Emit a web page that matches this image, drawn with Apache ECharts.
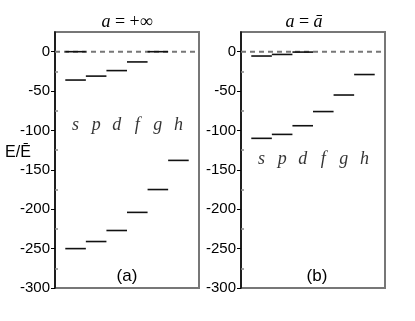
<!DOCTYPE html>
<html>
<head>
<meta charset="utf-8" />
<title>levels</title>
<script src="https://cdn.jsdelivr.net/npm/echarts@6/dist/echarts.min.js"></script>
<style>
	html, body { margin: 0; padding: 0; background: #fff; }
	#chart { width: 415px; height: 321px; }
</style>
</head>
<body>
<div id="chart"></div>
<script>
// orbital columns
var orbitals = ['s', 'p', 'd', 'f', 'g', 'h'];
// energy levels per column, panel (a) a = +inf
var levelsA = [[0, -36, -250], [-31, -241], [-24, -227], [-13, -204], [0, -175], [-138]];
// panel (b) a = a-bar
var levelsB = [[-5.5, -110], [-3.5, -105], [-0.5, -94], [-76], [-55], [-29]];
// height of the s p d ... letters in each panel
var letterY = [-94, -137];
var majorTicks = [0, -50, -100, -150, -200, -250, -300];
var minorTicks = [-25, -75, -125, -175, -225, -275];

var chart = echarts.init(document.getElementById('chart'));

function segs(levels) {
	var out = [];
	levels.forEach(function (col, i) {
		col.forEach(function (v) { out.push([i + 1, v]); });
	});
	return out;
}

function renderLevel(params, api) {
	var x = api.value(0), y = api.value(1);
	var p1 = api.coord([x - 0.5, y]);
	var p2 = api.coord([x + 0.5, y]);
	return {
		type: 'line',
		shape: { x1: p1[0], y1: p1[1], x2: p2[0], y2: p2[1] },
		style: { stroke: '#111', lineWidth: 1.6 }
	};
}

function mainY(grid) {
	return {
		type: 'value', gridIndex: grid, position: 'left', min: -300, max: 25,
		axisLine: { show: true, lineStyle: { color: '#000', width: 1.5 } },
		axisTick: { show: true, inside: false, length: 4, customValues: majorTicks, lineStyle: { color: '#000' } },
		axisLabel: { customValues: majorTicks, margin: 5, color: '#000', fontSize: 15, fontFamily: 'Liberation Sans' },
		splitLine: { show: false }
	};
}
function minorY(grid) {
	return {
		type: 'value', gridIndex: grid, position: 'left', min: -300, max: 25,
		axisLine: { show: false },
		axisTick: { show: true, inside: true, length: 3, customValues: minorTicks, lineStyle: { color: '#888', width: 1.5 } },
		axisLabel: { show: false },
		splitLine: { show: false }
	};
}
function xAx(grid) {
	return { type: 'value', gridIndex: grid, min: 0, max: 7, show: false };
}

function panelSeries(grid, yIdx, levels, ly) {
	return [
		{
			type: 'line', xAxisIndex: grid, yAxisIndex: yIdx, symbol: 'none', silent: true, z: 1,
			data: [[0, 0], [7, 0]],
			lineStyle: { color: '#777', width: 2, type: [5, 4] }
		},
		{
			type: 'custom', xAxisIndex: grid, yAxisIndex: yIdx, z: 5,
			renderItem: renderLevel, data: segs(levels)
		},
		{
			type: 'scatter', xAxisIndex: grid, yAxisIndex: yIdx, symbolSize: 1,
			itemStyle: { color: 'rgba(0,0,0,0)' },
			data: orbitals.map(function (o, i) { return { name: o, value: [i + 1, ly] }; }),
			label: {
				show: true, position: 'inside', formatter: '{b}',
				fontFamily: 'Liberation Serif', fontStyle: 'italic', fontSize: 18, color: '#000'
			}
		}
	];
}

var option = {
	animation: false,
	grid: [
		{ left: 55, top: 32, width: 144, height: 256, show: true, borderColor: '#777', borderWidth: 2 },
		{ left: 241, top: 32, width: 144, height: 256, show: true, borderColor: '#777', borderWidth: 2 }
	],
	xAxis: [xAx(0), xAx(1)],
	yAxis: [mainY(0), minorY(0), mainY(1), minorY(1)],
	series: panelSeries(0, 0, levelsA, letterY[0]).concat(panelSeries(1, 2, levelsB, letterY[1])),
	graphic: [
		{ type: 'text', x: 127, y: 22, style: {
			text: '{i|a} = +∞', textAlign: 'center', textVerticalAlign: 'middle',
			fontFamily: 'Liberation Serif', fontSize: 18, fill: '#000',
			rich: { i: { fontStyle: 'italic', fontFamily: 'Liberation Serif', fontSize: 18 } } } },
		{ type: 'text', x: 304, y: 22, style: {
			text: '{i|a} = {i|ā}', textAlign: 'center', textVerticalAlign: 'middle',
			fontFamily: 'Liberation Serif', fontSize: 18, fill: '#000',
			rich: { i: { fontStyle: 'italic', fontFamily: 'Liberation Serif', fontSize: 18 } } } },
		{ type: 'text', x: 18, y: 153, style: {
			text: 'E/Ē', textAlign: 'center', textVerticalAlign: 'middle',
			fontFamily: 'Liberation Sans', fontSize: 16, fill: '#000' } },
		{ type: 'text', x: 127, y: 276, style: {
			text: '(a)', textAlign: 'center', textVerticalAlign: 'middle',
			fontFamily: 'Liberation Sans', fontSize: 17, fill: '#000' } },
		{ type: 'text', x: 317, y: 276, style: {
			text: '(b)', textAlign: 'center', textVerticalAlign: 'middle',
			fontFamily: 'Liberation Sans', fontSize: 17, fill: '#000' } }
	]
};
chart.setOption(option);
window.onresize = function () { chart.resize(); };
</script>
</body>
</html>
